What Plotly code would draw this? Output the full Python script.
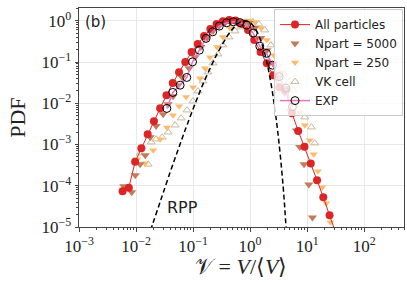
import plotly.graph_objects as go

# ---------------- data ----------------
all_x = [0.00581, 0.00748, 0.00964, 0.0124, 0.0160, 0.0206, 0.0265, 0.0342, 0.0441, 0.0568,
         0.0731, 0.0942, 0.121, 0.156, 0.201, 0.259, 0.334, 0.431, 0.555, 0.714,
         0.920, 1.186, 1.528, 1.968, 2.535, 3.266, 4.207, 5.420, 6.982, 8.995,
         11.59, 14.93, 19.23, 24.77, 31.9]
all_y = [7.4e-5, 9.0e-5, 3.8e-4, 8.1e-4, 1.78e-3, 3.68e-3, 7.6e-3, 0.0157, 0.0308, 0.0569,
         0.0995, 0.174, 0.272, 0.425, 0.629, 0.832, 0.98, 1.04, 1.02, 0.83,
         0.594, 0.340, 0.174, 0.094, 0.048, 0.0246, 0.0208, 0.00575, 0.00214, 8.85e-4,
         3.46e-4, 1.36e-4, 5.26e-5, 1.92e-5, 7.0e-6]

n5000_x = [0.0061, 0.0084, 0.0097, 0.0118, 0.0145, 0.0177, 0.0225, 0.0299, 0.0366, 0.0447,
           0.0547, 0.0642, 0.0851, 0.108, 0.138, 0.176, 0.224, 0.285, 0.362, 0.462,
           0.588, 0.748, 0.953, 1.21, 1.545, 1.97, 2.5, 3.19, 4.06, 5.17,
           6.5, 7.43, 8.83, 10.7, 12.4]
n5000_y = [9.7e-5, 7.0e-5, 1.8e-4, 3.3e-4, 5.5e-4, 1.5e-3, 2.8e-3, 5.4e-3, 9.5e-3, 0.0149,
           0.0275, 0.043, 0.071, 0.131, 0.230, 0.380, 0.562, 0.743, 0.88, 0.95,
           0.96, 0.95, 0.88, 0.665, 0.38, 0.194, 0.094, 0.043, 0.0176, 6.4e-3,
           2.2e-3, 8.7e-4, 3.3e-4, 1.07e-4, 1.7e-5]

n250_x = [0.0105, 0.0145, 0.0200, 0.0265, 0.0351, 0.0447, 0.0569, 0.0755, 0.1, 0.1325,
          0.162, 0.198, 0.263, 0.334, 0.443, 0.588, 0.748, 0.953, 1.21, 1.545,
          1.97, 2.61, 3.55, 4.58, 5.83, 7.43, 9.08, 11.1, 13.0, 15.5,
          18.5, 21.7, 25.5]
n250_y = [4.4e-4, 3.5e-4, 7.3e-4, 1.35e-3, 2.6e-3, 5.1e-3, 8.5e-3, 0.0141, 0.0246, 0.0407,
          0.071, 0.131, 0.230, 0.402, 0.665, 0.88, 1.0, 1.02, 0.93, 0.665,
          0.340, 0.147, 0.0569, 0.0233, 0.0119, 6.1e-3, 2.94e-3, 1.27e-3, 5.8e-4, 2.25e-4,
          9.2e-5, 3.76e-5, 1.3e-5]

vk_x = [0.0118, 0.0163, 0.01845, 0.0225, 0.0287, 0.0366, 0.0484, 0.0617, 0.0785, 0.1,
        0.122, 0.1496, 0.183, 0.224, 0.2735, 0.334, 0.426, 0.542, 0.69, 0.879,
        1.12, 1.425, 1.815, 2.31, 3.06, 3.9, 4.83, 5.67, 7.22, 9.08,
        11.9, 13.6]
vk_y = [6.15e-4, 3.3e-4, 1.14e-3, 1.35e-3, 1.5e-3, 1.99e-3, 2.94e-3, 4.35e-3, 6.8e-3, 0.01125,
        0.0197, 0.0344, 0.0569, 0.094, 0.1555, 0.257, 0.402, 0.562, 0.703, 0.88,
        0.93, 0.83, 0.594, 0.257, 0.089, 0.0538, 0.0325, 0.0208, 9.0e-3, 4.6e-3,
        2.63e-3, 1.08e-3]

exp_x = [0.0347, 0.0442, 0.0593, 0.0776, 0.098, 0.129, 0.169, 0.221, 0.288, 0.388,
         0.507, 0.663, 0.869, 1.133, 1.48, 1.94, 2.47, 3.23, 4.23, 5.53]
exp_y = [7.5e-3, 0.0183, 0.0275, 0.0423, 0.101, 0.194, 0.374, 0.541, 0.743, 0.894,
         0.946, 0.904, 0.786, 0.503, 0.243, 0.162, 0.084, 0.0442, 0.0233, 8.2e-3]

rpp_x = [0.018, 0.02, 0.025, 0.03, 0.04, 0.05, 0.06, 0.07, 0.08, 0.1,
         0.12, 0.15, 0.2, 0.25, 0.3, 0.4, 0.5, 0.6, 0.7, 0.8,
         0.9, 1.0, 1.2, 1.5, 1.8, 2.0, 2.2, 2.5, 2.8, 3.0,
         3.2, 3.5, 3.8, 4.0, 4.2, 4.5]
rpp_y = [8.3e-6, 1.29e-5, 3.2e-5, 6.8e-5, 2.2e-4, 5.3e-4, 1.07e-3, 1.95e-3, 3.2e-3, 7.25e-3,
         0.0138, 0.0295, 0.0712, 0.137, 0.218, 0.43, 0.650, 0.838, 0.956, 1.0,
         0.976, 0.904, 0.686, 0.365, 0.163, 0.0891, 0.0464, 0.0164, 5.44e-3, 2.54e-3,
         1.16e-3, 3.4e-4, 9.5e-5, 3.8e-5, 1.4e-5, 3.5e-6]

x_tickvals = [1e-3, 1e-2, 1e-1, 1e0, 1e1, 1e2]
x_ticktext = ["10<sup>−3</sup>", "10<sup>−2</sup>", "10<sup>−1</sup>", "10<sup>0</sup>",
              "10<sup>1</sup>", "10<sup>2</sup>"]
y_tickvals = [1e-5, 1e-4, 1e-3, 1e-2, 1e-1, 1e0]
y_ticktext = ["10<sup>−5</sup>", "10<sup>−4</sup>", "10<sup>−3</sup>", "10<sup>−2</sup>",
              "10<sup>−1</sup>", "10<sup>0</sup>"]

# ---------------- styles ----------------
RED = "#dc2626"
BROWN = "#c47b5c"
ORANGE = "#fdbb6a"
TAN = "#c9b99a"
PINK = "#e377c2"
SERIF = "Liberation Serif"

fig = go.Figure()

fig.add_trace(go.Scatter(x=vk_x, y=vk_y, mode="markers", name="VK cell", legendrank=4,
                         marker=dict(symbol="triangle-up-open", size=7, color=TAN,
                                     line=dict(width=1, color=TAN))))
fig.add_trace(go.Scatter(x=n250_x, y=n250_y, mode="markers", name="Npart = 250", legendrank=3,
                         marker=dict(symbol="triangle-down", size=7, color=ORANGE, line=dict(width=0))))
fig.add_trace(go.Scatter(x=n5000_x, y=n5000_y, mode="markers", name="Npart = 5000", legendrank=2,
                         marker=dict(symbol="triangle-down", size=8, color=BROWN, line=dict(width=0))))
fig.add_trace(go.Scatter(x=all_x, y=all_y, mode="lines+markers", name="All particles", legendrank=1,
                         line=dict(color=RED, width=1),
                         marker=dict(symbol="circle", size=8, color=RED, line=dict(width=0))))
fig.add_trace(go.Scatter(x=exp_x, y=exp_y, mode="lines+markers", name="EXP", legendrank=5,
                         line=dict(color=PINK, width=1.5),
                         marker=dict(symbol="circle", size=8, color="rgba(0,0,0,0)",
                                     line=dict(width=1, color="black"))))
fig.add_trace(go.Scatter(x=rpp_x, y=rpp_y, mode="lines", name="RPP", showlegend=False,
                         line=dict(color="black", width=1.5, dash="5px,3px", shape="spline")))

minor_x = [m * 10 ** e for e in range(-3, 3) for m in range(2, 10)]
minor_y = [m * 10 ** e for e in range(-5, 1) for m in range(2, 10)]

axis_common = dict(
    showline=True, linecolor="#444444", linewidth=1, mirror=True,
    showgrid=True, gridcolor="#e8e8e8", gridwidth=1,
    ticks="outside", ticklen=3.5, tickwidth=0.8, tickcolor="#444444",
    tickfont=dict(family=SERIF, size=17, color="#222222"),
    zeroline=False, automargin=False,
)

fig.update_xaxes(type="log", range=[-3, 2.699], tickmode="array",
                 tickvals=x_tickvals, ticktext=x_ticktext,
                 minor=dict(tickmode="array", tickvals=minor_x, ticks="outside", ticklen=2,
                            tickwidth=0.6, tickcolor="#444444", showgrid=False),
                 **axis_common)
fig.update_yaxes(type="log", range=[-5, 0.31], tickmode="array",
                 tickvals=y_tickvals, ticktext=y_ticktext,
                 minor=dict(tickmode="array", tickvals=minor_y, ticks="outside", ticklen=2,
                            tickwidth=0.6, tickcolor="#444444", showgrid=False),
                 **axis_common)

# axis titles as paper-positioned text
fig.add_annotation(xref="paper", yref="paper", x=0.497, y=-0.18, text="𝒱 = <i>V</i>/⟨<i>V</i>⟩",
                   showarrow=False, xanchor="center", yanchor="middle",
                   font=dict(family=SERIF, size=22, color="#222222"))
fig.add_annotation(xref="paper", yref="paper", x=-0.19, y=0.5, text="PDF", textangle=-90,
                   showarrow=False, xanchor="center", yanchor="middle",
                   font=dict(family=SERIF, size=22, color="#222222"))

fig.add_annotation(xref="paper", yref="paper", x=0.012, y=0.936, text="(b)", showarrow=False,
                   xanchor="left", yanchor="middle",
                   font=dict(family="DejaVu Sans", size=15, color="#222222"))
fig.add_annotation(x=-1.192, y=-4.534, text="RPP", showarrow=False,
                   xanchor="center", yanchor="middle",
                   font=dict(family="DejaVu Sans", size=16, color="#222222"))

fig.update_layout(
    width=407, height=283,
    margin=dict(l=79, r=3, t=8, b=56, autoexpand=False),
    paper_bgcolor="white", plot_bgcolor="white",
    showlegend=True,
    legend=dict(x=0.997, y=0.995, xanchor="right", yanchor="top",
                bgcolor="rgba(255,255,255,0.8)", bordercolor="#cccccc", borderwidth=1,
                font=dict(family="DejaVu Sans", size=12, color="#222222"),
                itemwidth=30, tracegroupgap=0),
)

fig.write_html("out.html", config={"displayModeBar": False},
               post_script="document.body.style.margin='0';document.body.style.padding='0';")
